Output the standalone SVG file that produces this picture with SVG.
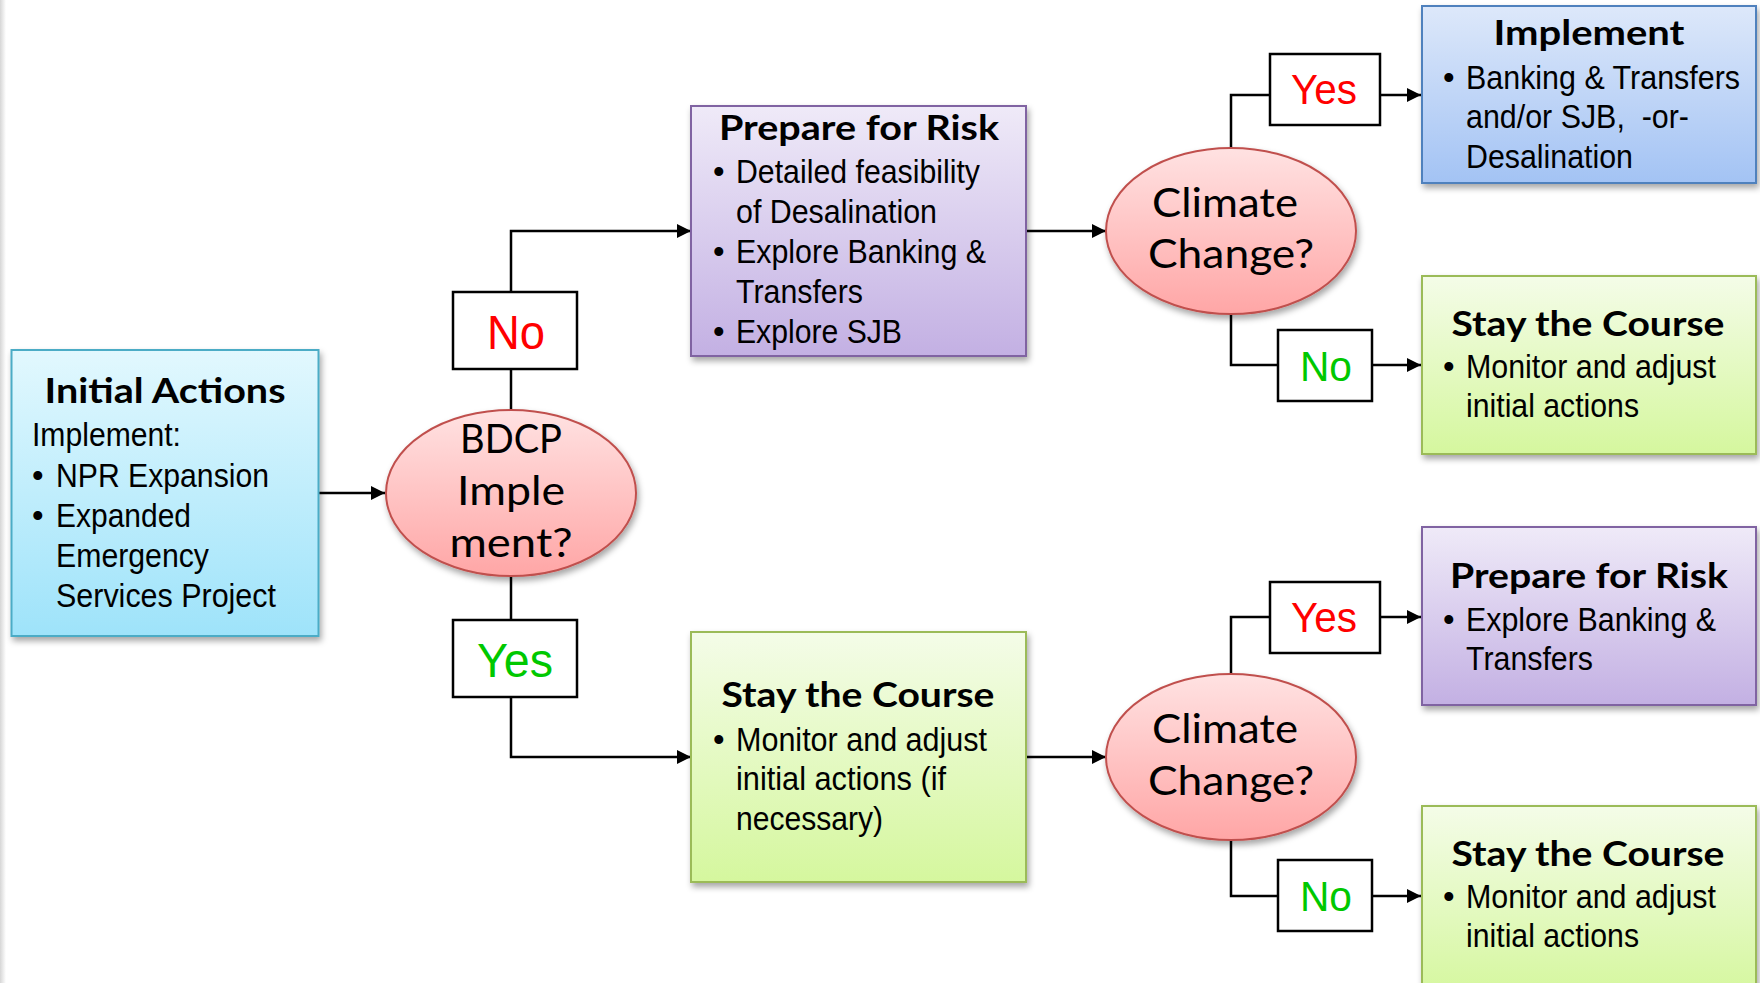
<svg xmlns="http://www.w3.org/2000/svg" width="1760" height="983" viewBox="0 0 1760 983">
<style>
.title{font-family:Lato,"Open Sans","Liberation Sans",sans-serif;font-weight:bold;font-size:34px;fill:#000;text-anchor:middle}
.body{font-family:"Liberation Sans",Arial,sans-serif;font-size:33px;fill:#000}
.q{font-family:Lato,"Open Sans","Liberation Sans",sans-serif;font-size:41px;fill:#000;text-anchor:middle}
.lbl{font-family:"Liberation Sans",Arial,sans-serif;text-anchor:middle}
.red{fill:#FF0000}
.grn{fill:#00C800}
.lblbox{fill:#fff;stroke:#000;stroke-width:2.5}
.conn{fill:none;stroke:#000;stroke-width:2.5}
</style>
<defs>
<linearGradient id="gCyan" x1="0" y1="0" x2="0" y2="1"><stop offset="0" stop-color="#E2F8FE"/><stop offset="1" stop-color="#9EE3FA"/></linearGradient>
<linearGradient id="gPurple" x1="0" y1="0" x2="0" y2="1"><stop offset="0" stop-color="#EFEAF8"/><stop offset="1" stop-color="#C3B0E3"/></linearGradient>
<linearGradient id="gBlue" x1="0" y1="0" x2="0" y2="1"><stop offset="0" stop-color="#DDE8FA"/><stop offset="1" stop-color="#A3C3F4"/></linearGradient>
<linearGradient id="gGreen" x1="0" y1="0" x2="0" y2="1"><stop offset="0" stop-color="#F4FCE8"/><stop offset="1" stop-color="#D5F79E"/></linearGradient>
<linearGradient id="gRed" x1="0" y1="0" x2="0" y2="1"><stop offset="0" stop-color="#FFE2E2"/><stop offset="1" stop-color="#FFA6A6"/></linearGradient>
<linearGradient id="gEdge" x1="0" y1="0" x2="1" y2="0"><stop offset="0" stop-color="#D6D6D6"/><stop offset="1" stop-color="#FFFFFF"/></linearGradient>
<filter id="sh" x="-10%" y="-10%" width="125%" height="130%"><feDropShadow dx="2" dy="4" stdDeviation="3" flood-color="#000" flood-opacity="0.35"/></filter>
<marker id="arr" markerUnits="userSpaceOnUse" markerWidth="14" markerHeight="14" refX="14" refY="7" orient="auto"><path d="M0,0 L14,7 L0,14 z" fill="#000"/></marker>
</defs>
<rect x="0" y="0" width="1760" height="983" fill="#fff"/>
<rect x="0" y="0" width="6" height="983" fill="url(#gEdge)"/>

<g id="connectors">
<path class="conn" d="M318,493 H385" marker-end="url(#arr)"/>
<path class="conn" d="M511,410 V369"/>
<path class="conn" d="M511,292 V231 H691" marker-end="url(#arr)"/>
<path class="conn" d="M511,576 V620"/>
<path class="conn" d="M511,697 V757 H691" marker-end="url(#arr)"/>
<path class="conn" d="M1026,231 H1106" marker-end="url(#arr)"/>
<path class="conn" d="M1231,148 V95 H1270"/>
<path class="conn" d="M1380,95 H1421" marker-end="url(#arr)"/>
<path class="conn" d="M1231,313 V365 H1278"/>
<path class="conn" d="M1372,365 H1421" marker-end="url(#arr)"/>
<path class="conn" d="M1026,757 H1106" marker-end="url(#arr)"/>
<path class="conn" d="M1231,674 V617 H1270"/>
<path class="conn" d="M1380,617 H1421" marker-end="url(#arr)"/>
<path class="conn" d="M1231,840 V896 H1278"/>
<path class="conn" d="M1372,896 H1421" marker-end="url(#arr)"/>
</g>

<g id="initial-actions">
<rect x="11.5" y="350" width="307" height="286" fill="url(#gCyan)" stroke="#4BACC6" stroke-width="2" filter="url(#sh)"/>
<text class="title" x="165" y="403" textLength="241" lengthAdjust="spacingAndGlyphs">Initial Actions</text>
<text class="body" x="32" y="446" textLength="149" lengthAdjust="spacingAndGlyphs">Implement:</text>
<text class="body" x="32" y="487">•</text>
<text class="body" x="56" y="487" textLength="213" lengthAdjust="spacingAndGlyphs">NPR Expansion</text>
<text class="body" x="32" y="527">•</text>
<text class="body" x="56" y="527" textLength="135" lengthAdjust="spacingAndGlyphs">Expanded</text>
<text class="body" x="56" y="567" textLength="153" lengthAdjust="spacingAndGlyphs">Emergency</text>
<text class="body" x="56" y="607" textLength="220" lengthAdjust="spacingAndGlyphs">Services Project</text>
</g>

<g id="bdcp-decision">
<ellipse cx="511" cy="493" rx="125" ry="83" fill="url(#gRed)" stroke="#C0504D" stroke-width="2" filter="url(#sh)"/>
<text class="q" x="511" y="453" textLength="102" lengthAdjust="spacingAndGlyphs">BDCP</text>
<text class="q" x="511" y="505" textLength="108" lengthAdjust="spacingAndGlyphs">Imple</text>
<text class="q" x="511" y="557" textLength="123" lengthAdjust="spacingAndGlyphs">ment?</text>
</g>

<g id="label-no-bdcp">
<rect class="lblbox" x="453" y="292" width="124" height="77"/>
<text class="lbl red" x="516" y="349" font-size="48" textLength="58" lengthAdjust="spacingAndGlyphs">No</text>
</g>

<g id="label-yes-bdcp">
<rect class="lblbox" x="453" y="620" width="124" height="77"/>
<text class="lbl grn" x="515" y="677" font-size="48" textLength="76" lengthAdjust="spacingAndGlyphs">Yes</text>
</g>

<g id="prepare-risk-1">
<rect x="691" y="106" width="335" height="250" fill="url(#gPurple)" stroke="#8064A2" stroke-width="2" filter="url(#sh)"/>
<text class="title" x="859" y="140" textLength="280" lengthAdjust="spacingAndGlyphs">Prepare for Risk</text>
<text class="body" x="713" y="183">•</text>
<text class="body" x="736" y="183" textLength="244" lengthAdjust="spacingAndGlyphs">Detailed feasibility</text>
<text class="body" x="736" y="223" textLength="201" lengthAdjust="spacingAndGlyphs">of Desalination</text>
<text class="body" x="713" y="263">•</text>
<text class="body" x="736" y="263" textLength="250" lengthAdjust="spacingAndGlyphs">Explore Banking &amp;</text>
<text class="body" x="736" y="303" textLength="127" lengthAdjust="spacingAndGlyphs">Transfers</text>
<text class="body" x="713" y="343">•</text>
<text class="body" x="736" y="343" textLength="166" lengthAdjust="spacingAndGlyphs">Explore SJB</text>
</g>

<g id="stay-course-1">
<rect x="691" y="632" width="335" height="250" fill="url(#gGreen)" stroke="#9BBB59" stroke-width="2" filter="url(#sh)"/>
<text class="title" x="858" y="707" textLength="273" lengthAdjust="spacingAndGlyphs">Stay the Course</text>
<text class="body" x="713" y="751">•</text>
<text class="body" x="736" y="751" textLength="251" lengthAdjust="spacingAndGlyphs">Monitor and adjust</text>
<text class="body" x="736" y="790" textLength="210" lengthAdjust="spacingAndGlyphs">initial actions (if</text>
<text class="body" x="736" y="830" textLength="147" lengthAdjust="spacingAndGlyphs">necessary)</text>
</g>

<g id="climate-1">
<ellipse cx="1231" cy="231" rx="125" ry="83" fill="url(#gRed)" stroke="#C0504D" stroke-width="2" filter="url(#sh)"/>
<text class="q" x="1225" y="217" textLength="146" lengthAdjust="spacingAndGlyphs">Climate</text>
<text class="q" x="1231" y="268" textLength="166" lengthAdjust="spacingAndGlyphs">Change?</text>
</g>

<g id="climate-2">
<ellipse cx="1231" cy="757" rx="125" ry="83" fill="url(#gRed)" stroke="#C0504D" stroke-width="2" filter="url(#sh)"/>
<text class="q" x="1225" y="743" textLength="146" lengthAdjust="spacingAndGlyphs">Climate</text>
<text class="q" x="1231" y="795" textLength="166" lengthAdjust="spacingAndGlyphs">Change?</text>
</g>

<g id="label-yes-c1">
<rect class="lblbox" x="1270" y="54" width="110" height="71"/>
<text class="lbl red" x="1324" y="104" font-size="42" textLength="66" lengthAdjust="spacingAndGlyphs">Yes</text>
</g>
<g id="label-no-c1">
<rect class="lblbox" x="1278" y="330" width="94" height="71"/>
<text class="lbl grn" x="1326" y="381" font-size="42" textLength="52" lengthAdjust="spacingAndGlyphs">No</text>
</g>
<g id="label-yes-c2">
<rect class="lblbox" x="1270" y="582" width="110" height="71"/>
<text class="lbl red" x="1324" y="632" font-size="42" textLength="66" lengthAdjust="spacingAndGlyphs">Yes</text>
</g>
<g id="label-no-c2">
<rect class="lblbox" x="1278" y="860" width="94" height="71"/>
<text class="lbl grn" x="1326" y="911" font-size="42" textLength="52" lengthAdjust="spacingAndGlyphs">No</text>
</g>

<g id="implement">
<rect x="1422" y="6" width="334" height="177" fill="url(#gBlue)" stroke="#4F81BD" stroke-width="2" filter="url(#sh)"/>
<text class="title" x="1589" y="45" textLength="191" lengthAdjust="spacingAndGlyphs">Implement</text>
<text class="body" x="1443" y="89">•</text>
<text class="body" x="1466" y="89" textLength="274" lengthAdjust="spacingAndGlyphs">Banking &amp; Transfers</text>
<text class="body" x="1466" y="128" textLength="223" lengthAdjust="spacingAndGlyphs" xml:space="preserve">and/or SJB,  -or-</text>
<text class="body" x="1466" y="168" textLength="167" lengthAdjust="spacingAndGlyphs">Desalination</text>
</g>

<g id="stay-course-2">
<rect x="1422" y="276" width="334" height="178" fill="url(#gGreen)" stroke="#9BBB59" stroke-width="2" filter="url(#sh)"/>
<text class="title" x="1588" y="336" textLength="273" lengthAdjust="spacingAndGlyphs">Stay the Course</text>
<text class="body" x="1443" y="378">•</text>
<text class="body" x="1466" y="378" textLength="250" lengthAdjust="spacingAndGlyphs">Monitor and adjust</text>
<text class="body" x="1466" y="417" textLength="173" lengthAdjust="spacingAndGlyphs">initial actions</text>
</g>

<g id="prepare-risk-2">
<rect x="1422" y="527" width="334" height="178" fill="url(#gPurple)" stroke="#8064A2" stroke-width="2" filter="url(#sh)"/>
<text class="title" x="1589" y="588" textLength="278" lengthAdjust="spacingAndGlyphs">Prepare for Risk</text>
<text class="body" x="1443" y="631">•</text>
<text class="body" x="1466" y="631" textLength="250" lengthAdjust="spacingAndGlyphs">Explore Banking &amp;</text>
<text class="body" x="1466" y="670" textLength="127" lengthAdjust="spacingAndGlyphs">Transfers</text>
</g>

<g id="stay-course-3">
<rect x="1422" y="806" width="334" height="190" fill="url(#gGreen)" stroke="#9BBB59" stroke-width="2" filter="url(#sh)"/>
<text class="title" x="1588" y="866" textLength="273" lengthAdjust="spacingAndGlyphs">Stay the Course</text>
<text class="body" x="1443" y="908">•</text>
<text class="body" x="1466" y="908" textLength="250" lengthAdjust="spacingAndGlyphs">Monitor and adjust</text>
<text class="body" x="1466" y="947" textLength="173" lengthAdjust="spacingAndGlyphs">initial actions</text>
</g>
</svg>
